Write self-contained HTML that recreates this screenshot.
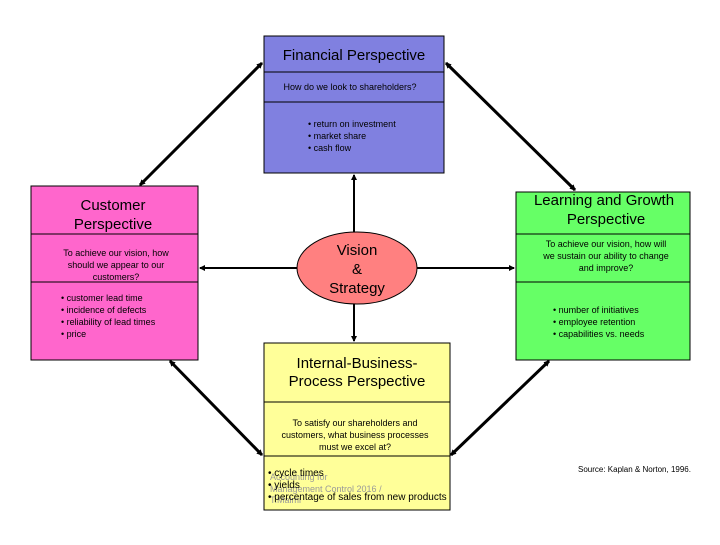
<!DOCTYPE html>
<html><head><style>
body{margin:0;width:720px;height:540px;background:#fff;overflow:hidden}
svg{font-family:"Liberation Sans",Arial,sans-serif}
</style></head><body>
<svg width="720" height="540" viewBox="0 0 720 540" xmlns="http://www.w3.org/2000/svg">
<defs>
<marker id="a" markerWidth="6" markerHeight="6" refX="5" refY="3" orient="auto-start-reverse" markerUnits="userSpaceOnUse"><path d="M0,0L6,3L0,6z" fill="#000"/></marker>
</defs>
<!-- Financial -->
<rect x="264" y="36" width="180" height="137" fill="#8080e0" stroke="#000"/>
<line x1="264" y1="72" x2="444" y2="72" stroke="#000"/>
<line x1="264" y1="102" x2="444" y2="102" stroke="#000"/>
<text x="354" y="60" font-size="15" text-anchor="middle">Financial Perspective</text>
<text x="350" y="90" font-size="9" text-anchor="middle">How do we look to shareholders?</text>
<text font-size="9"><tspan x="308" y="127">• return on investment</tspan><tspan x="308" y="139">• market share</tspan><tspan x="308" y="151">• cash flow</tspan></text>
<!-- Customer -->
<rect x="31" y="186" width="167" height="174" fill="#ff66cc" stroke="#000"/>
<line x1="31" y1="234" x2="198" y2="234" stroke="#000"/>
<line x1="31" y1="282" x2="198" y2="282" stroke="#000"/>
<text font-size="15" text-anchor="middle"><tspan x="113" y="210">Customer</tspan><tspan x="113" y="229">Perspective</tspan></text>
<text font-size="9" text-anchor="middle"><tspan x="116" y="256">To achieve our vision,  how</tspan><tspan x="116" y="268">should we appear to our</tspan><tspan x="116" y="280">customers?</tspan></text>
<text font-size="9"><tspan x="61" y="301">• customer lead time</tspan><tspan x="61" y="313">• incidence of defects</tspan><tspan x="61" y="325">• reliability of lead times</tspan><tspan x="61" y="337">• price</tspan></text>
<!-- Learning -->
<rect x="516" y="192" width="174" height="168" fill="#66ff66" stroke="#000"/>
<line x1="516" y1="234" x2="690" y2="234" stroke="#000"/>
<line x1="516" y1="282" x2="690" y2="282" stroke="#000"/>
<text font-size="15" text-anchor="middle"><tspan x="604" y="205">Learning and Growth</tspan><tspan x="606" y="224">Perspective</tspan></text>
<text font-size="9" text-anchor="middle"><tspan x="606" y="247">To achieve our vision,  how will</tspan><tspan x="606" y="259">we sustain our ability to change</tspan><tspan x="606" y="271">and improve?</tspan></text>
<text font-size="9"><tspan x="553" y="313">• number of initiatives</tspan><tspan x="553" y="325">• employee retention</tspan><tspan x="553" y="337">• capabilities vs. needs</tspan></text>
<!-- Internal -->
<rect x="264" y="343" width="186" height="167" fill="#ffff99" stroke="#000"/>
<line x1="264" y1="402" x2="450" y2="402" stroke="#000"/>
<line x1="264" y1="456" x2="450" y2="456" stroke="#000"/>
<text font-size="15" text-anchor="middle"><tspan x="357" y="368">Internal-Business-</tspan><tspan x="357" y="386">Process Perspective</tspan></text>
<text font-size="9" text-anchor="middle"><tspan x="355" y="426">To satisfy our shareholders and</tspan><tspan x="355" y="438">customers, what business processes</tspan><tspan x="355" y="450">must we excel at?</tspan></text>
<text font-size="9" fill="#999"><tspan x="270" y="480">Accounting for</tspan><tspan x="270" y="492">Management Control 2016 /</tspan><tspan x="270" y="503">T.Malmi</tspan></text>
<text font-size="10"><tspan x="268" y="476">• cycle times</tspan><tspan x="268" y="488">• yields</tspan><tspan x="268" y="500">• percentage of sales from new products</tspan></text>
<text x="578" y="472" font-size="8">Source: Kaplan &amp; Norton, 1996.</text>
<!-- Vision -->
<ellipse cx="357" cy="268" rx="60" ry="36" fill="#ff8080" stroke="#000"/>
<text font-size="15" text-anchor="middle"><tspan x="357" y="255">Vision</tspan><tspan x="357" y="274">&amp;</tspan><tspan x="357" y="293">Strategy</tspan></text>
<!-- connectors -->
<g stroke="#000" stroke-width="3" marker-start="url(#a)" marker-end="url(#a)">
<line x1="262" y1="63" x2="140" y2="185"/>
<line x1="446" y1="63" x2="575" y2="190"/>
<line x1="170" y1="361" x2="262" y2="455"/>
<line x1="451" y1="455" x2="549" y2="361"/>
</g>
<g stroke="#000" stroke-width="2" marker-end="url(#a)">
<line x1="354" y1="232" x2="354" y2="175"/>
<line x1="354" y1="304" x2="354" y2="341"/>
<line x1="297" y1="268" x2="200" y2="268"/>
<line x1="417" y1="268" x2="514" y2="268"/>
</g>
</svg>
</body></html>
